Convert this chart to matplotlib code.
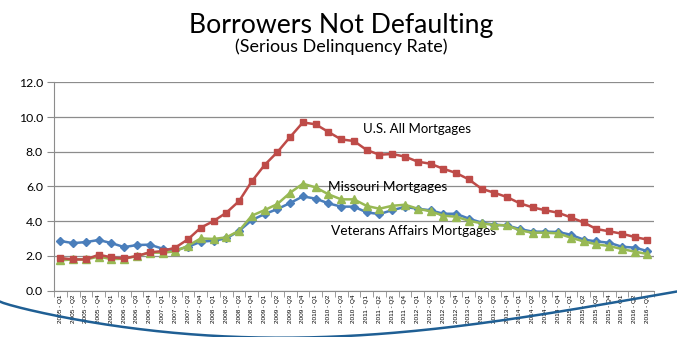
import matplotlib
matplotlib.use("Agg")
import matplotlib.pyplot as plt
import numpy as np

plt.rcParams['font.family'] = ['Lato', 'DejaVu Sans']

# quarters 2005-Q1 .. 2016-Q3
quarters = [f"{y} - Q{q}" for y in range(2005, 2017) for q in range(1, 5)][:47]

us_all = [1.88, 1.80, 1.80, 2.07, 1.92, 1.86, 2.00, 2.21, 2.28, 2.48,
          2.96, 3.63, 4.01, 4.49, 5.16, 6.30, 7.24, 7.98, 8.85, 9.69,
          9.58, 9.14, 8.71, 8.62, 8.10, 7.83, 7.87, 7.72, 7.43, 7.31,
          7.02, 6.78, 6.41, 5.87, 5.64, 5.39, 5.03, 4.80, 4.63, 4.49,
          4.22, 3.93, 3.55, 3.42, 3.28, 3.09, 2.94]
missouri = [1.75, 1.80, 1.80, 1.96, 1.82, 1.84, 2.00, 2.19, 2.19, 2.26,
            2.59, 3.01, 2.98, 3.07, 3.45, 4.32, 4.64, 4.99, 5.64, 6.16,
            5.95, 5.55, 5.26, 5.26, 4.88, 4.72, 4.89, 4.95, 4.72, 4.57,
            4.32, 4.26, 4.03, 3.88, 3.78, 3.76, 3.47, 3.34, 3.34, 3.30,
            3.05, 2.84, 2.67, 2.57, 2.40, 2.25, 2.11]
veterans = [2.86, 2.74, 2.80, 2.92, 2.74, 2.51, 2.63, 2.65, 2.42, 2.33,
            2.53, 2.82, 2.88, 3.01, 3.44, 4.07, 4.41, 4.70, 5.05, 5.43,
            5.30, 5.03, 4.84, 4.84, 4.51, 4.41, 4.64, 4.82, 4.72, 4.63,
            4.43, 4.43, 4.15, 3.92, 3.80, 3.76, 3.55, 3.40, 3.40, 3.38,
            3.22, 2.94, 2.84, 2.76, 2.53, 2.48, 2.28]

fig = plt.figure(figsize=(6.77, 3.37), dpi=100)
ax = fig.add_axes([0.0798, 0.1374, 0.886, 0.6184])

x = np.arange(len(quarters))
ax.plot(x, veterans, color='#4a7ebb', lw=1.8, marker='D', ms=4.0, zorder=3)
ax.plot(x, missouri, color='#98b954', lw=1.8, marker='^', ms=5.2, zorder=4)
ax.plot(x, us_all, color='#be4b48', lw=1.8, marker='s', ms=4.8, zorder=5)

ax.set_xlim(-0.5, len(quarters) - 0.5)
ax.set_ylim(0, 12)
ax.set_yticks(np.arange(0, 12.1, 2))
ax.set_yticklabels([f"{v:.1f}" for v in np.arange(0, 12.1, 2)], fontsize=8.8)
ax.yaxis.grid(True, color='#8c8c8c', lw=0.9)
ax.set_axisbelow(True)

ax.set_xticks(x)
ax.set_xticklabels(quarters, rotation=90, fontsize=4.6, family=['Liberation Sans'])
ax.set_xticks(np.arange(-0.5, len(quarters)), minor=True)
ax.tick_params(axis='x', which='major', length=0, pad=3)
ax.tick_params(axis='x', which='minor', length=4, color='#8c8c8c', direction='out')
ax.tick_params(axis='y', length=5, color='#8c8c8c', pad=3)

for s in ['top', 'right']:
    ax.spines[s].set_visible(False)
for s in ['left', 'bottom']:
    ax.spines[s].set_color('#8c8c8c')

ax.text(23.7, 9.1, "U.S. All Mortgages", fontsize=9.5)
ax.text(21.0, 5.95, "Missouri Mortgages", fontsize=9.8, va='center')
ax.text(21.2, 3.45, "Veterans Affairs Mortgages", fontsize=9.8, va='center')

fig.text(0.504, 0.925, "Borrowers Not Defaulting", ha='center', va='center', fontsize=19.2)
fig.text(0.504, 0.862, "(Serious Delinquency Rate)", ha='center', va='center', fontsize=13)

# decorative swoosh along the bottom of the slide
sx = np.linspace(0, 1, 200)
sy = 0.105 - 0.12 * np.sin(np.pi * sx ** 0.85) + 0.03 * sx
fig.add_artist(plt.Line2D(sx, sy, transform=fig.transFigure, color='#1f5f94', lw=1.8))

fig.savefig("out.png", dpi=100)
